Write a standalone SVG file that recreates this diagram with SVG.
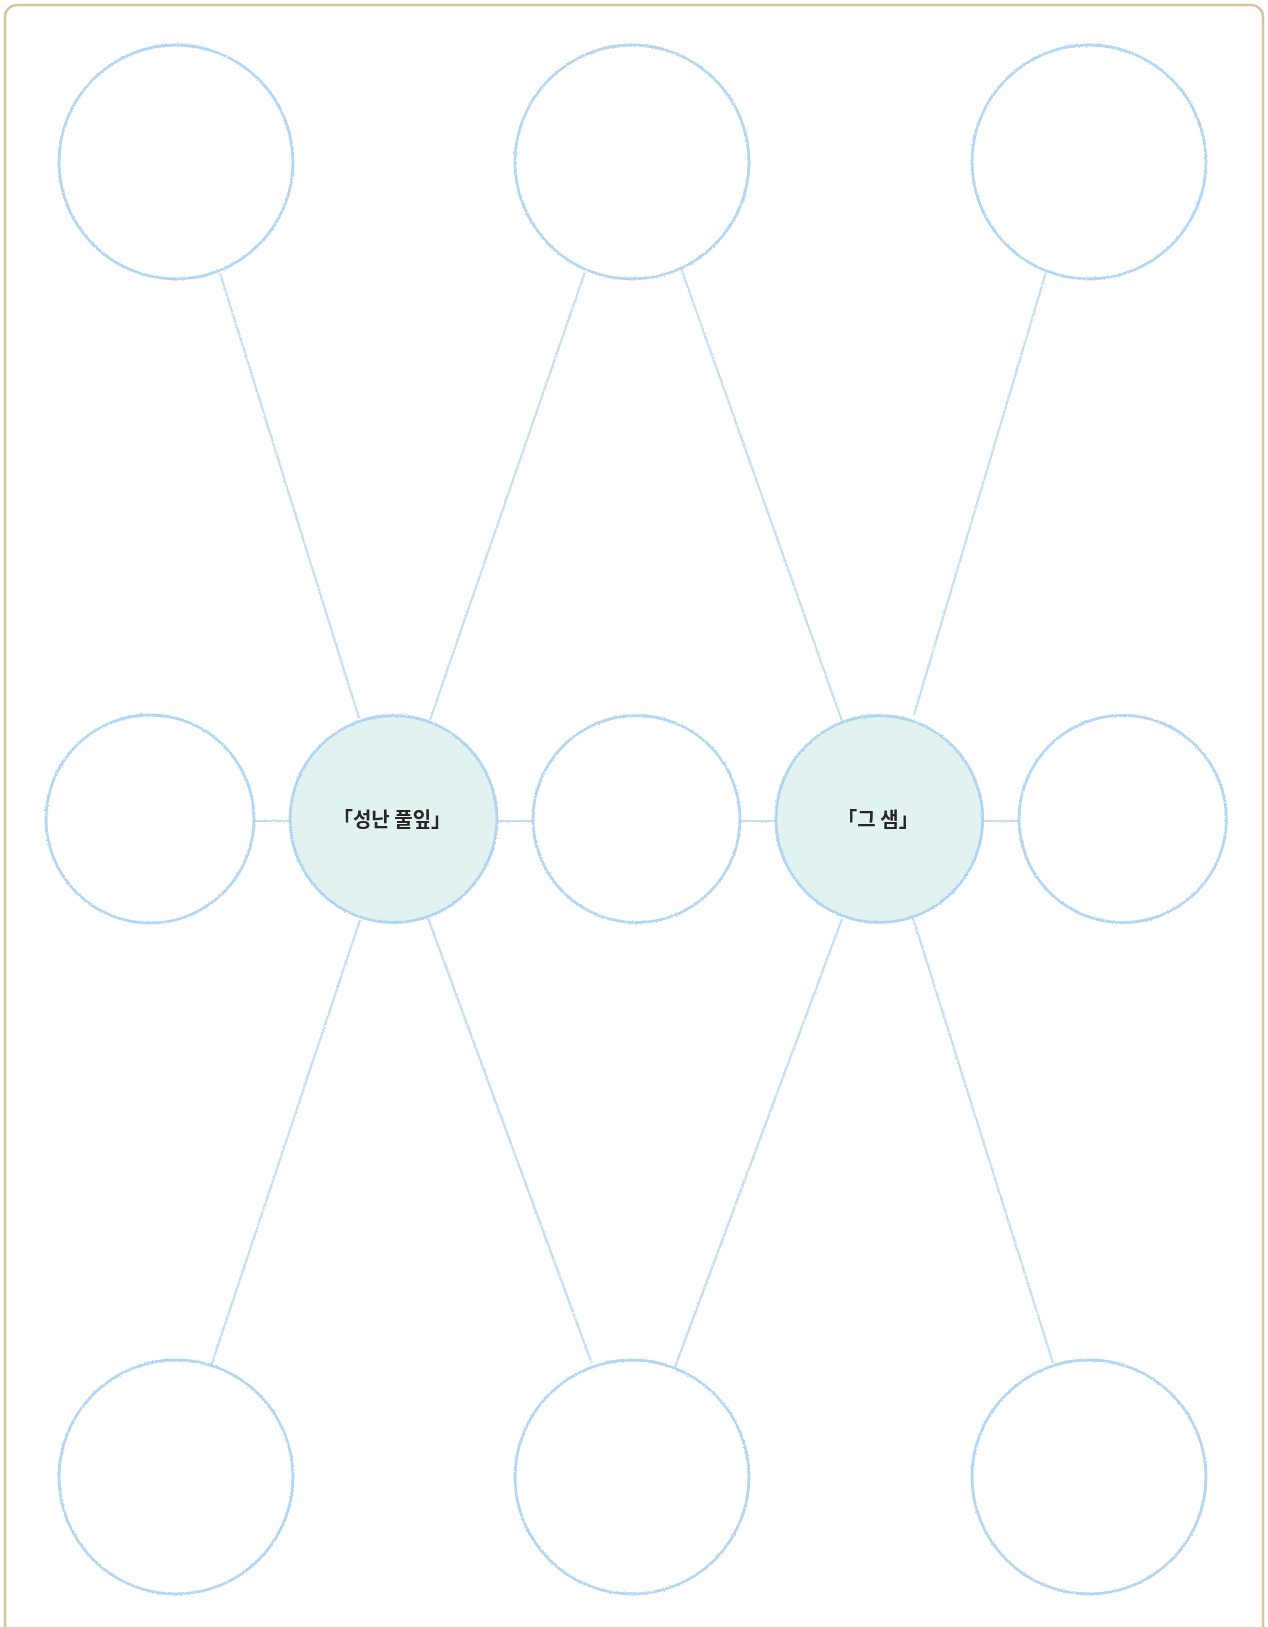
<svg xmlns="http://www.w3.org/2000/svg" width="1268" height="1627" viewBox="0 0 1268 1627">
<style>
.frame{fill:#ffffff;stroke:#d9c39f;stroke-width:2.6}
.ring{fill:none;stroke:#9fcbf0;stroke-width:2.8;opacity:0.8}
.fillw{fill:#ffffff}
.fillc{fill:#e2f2f1}
.edge{stroke:#b3d6f3;stroke-width:2.2;fill:none;opacity:0.8}
.lbl{font-family:"Noto Sans CJK KR","Noto Sans",sans-serif;font-size:20px;font-weight:700;fill:#262626;text-anchor:middle}
</style>
<defs>
<filter id="grain" filterUnits="userSpaceOnUse" x="0" y="0" width="1268" height="1627">
<feTurbulence type="fractalNoise" baseFrequency="0.9" numOctaves="2" seed="7" result="noise"/>
<feDisplacementMap in="SourceGraphic" in2="noise" scale="2.6" xChannelSelector="R" yChannelSelector="G"/>
</filter>
</defs>
<rect class="frame" x="5" y="5" width="1258" height="1640" rx="12" ry="12"/>
<g id="connectors" filter="url(#grain)">
<line class="edge" x1="359" y1="718" x2="220" y2="273"/>
<line class="edge" x1="430" y1="720" x2="585" y2="272"/>
<line class="edge" x1="360" y1="920" x2="211" y2="1366"/>
<line class="edge" x1="428" y1="918" x2="592" y2="1364"/>
<line class="edge" x1="254" y1="821" x2="290" y2="821"/>
<line class="edge" x1="497" y1="821" x2="533" y2="821"/>
<line class="edge" x1="842" y1="721" x2="681" y2="268"/>
<line class="edge" x1="914" y1="715" x2="1046" y2="272"/>
<line class="edge" x1="842" y1="919" x2="675" y2="1367"/>
<line class="edge" x1="913" y1="918" x2="1053" y2="1363"/>
<line class="edge" x1="740" y1="821" x2="776" y2="821"/>
<line class="edge" x1="982" y1="821" x2="1019" y2="821"/>
</g>
<g id="node-tl"><circle class="fillw" cx="176" cy="162" r="117"/><circle class="ring" cx="176" cy="162" r="117" filter="url(#grain)"/></g>
<g id="node-tm"><circle class="fillw" cx="632" cy="162" r="117"/><circle class="ring" cx="632" cy="162" r="117" filter="url(#grain)"/></g>
<g id="node-tr"><circle class="fillw" cx="1089" cy="162" r="117"/><circle class="ring" cx="1089" cy="162" r="117" filter="url(#grain)"/></g>
<g id="node-ml"><circle class="fillw" cx="150" cy="819" r="104"/><circle class="ring" cx="150" cy="819" r="104" filter="url(#grain)"/></g>
<g id="node-1"><circle class="fillc" cx="393.5" cy="819" r="103.5"/><circle class="ring" cx="393.5" cy="819" r="103.5" filter="url(#grain)"/><text class="lbl" x="392" y="827">「성난 풀잎」</text></g>
<g id="node-mm"><circle class="fillw" cx="636.5" cy="819" r="103.5"/><circle class="ring" cx="636.5" cy="819" r="103.5" filter="url(#grain)"/></g>
<g id="node-2"><circle class="fillc" cx="879.3" cy="819" r="103.5"/><circle class="ring" cx="879.3" cy="819" r="103.5" filter="url(#grain)"/><text class="lbl" x="878" y="827">「그 샘」</text></g>
<g id="node-mr"><circle class="fillw" cx="1122.7" cy="819" r="103.7"/><circle class="ring" cx="1122.7" cy="819" r="103.7" filter="url(#grain)"/></g>
<g id="node-bl"><circle class="fillw" cx="176" cy="1477" r="117"/><circle class="ring" cx="176" cy="1477" r="117" filter="url(#grain)"/></g>
<g id="node-bm"><circle class="fillw" cx="632" cy="1477" r="117"/><circle class="ring" cx="632" cy="1477" r="117" filter="url(#grain)"/></g>
<g id="node-br"><circle class="fillw" cx="1089" cy="1477" r="117"/><circle class="ring" cx="1089" cy="1477" r="117" filter="url(#grain)"/></g>
</svg>
